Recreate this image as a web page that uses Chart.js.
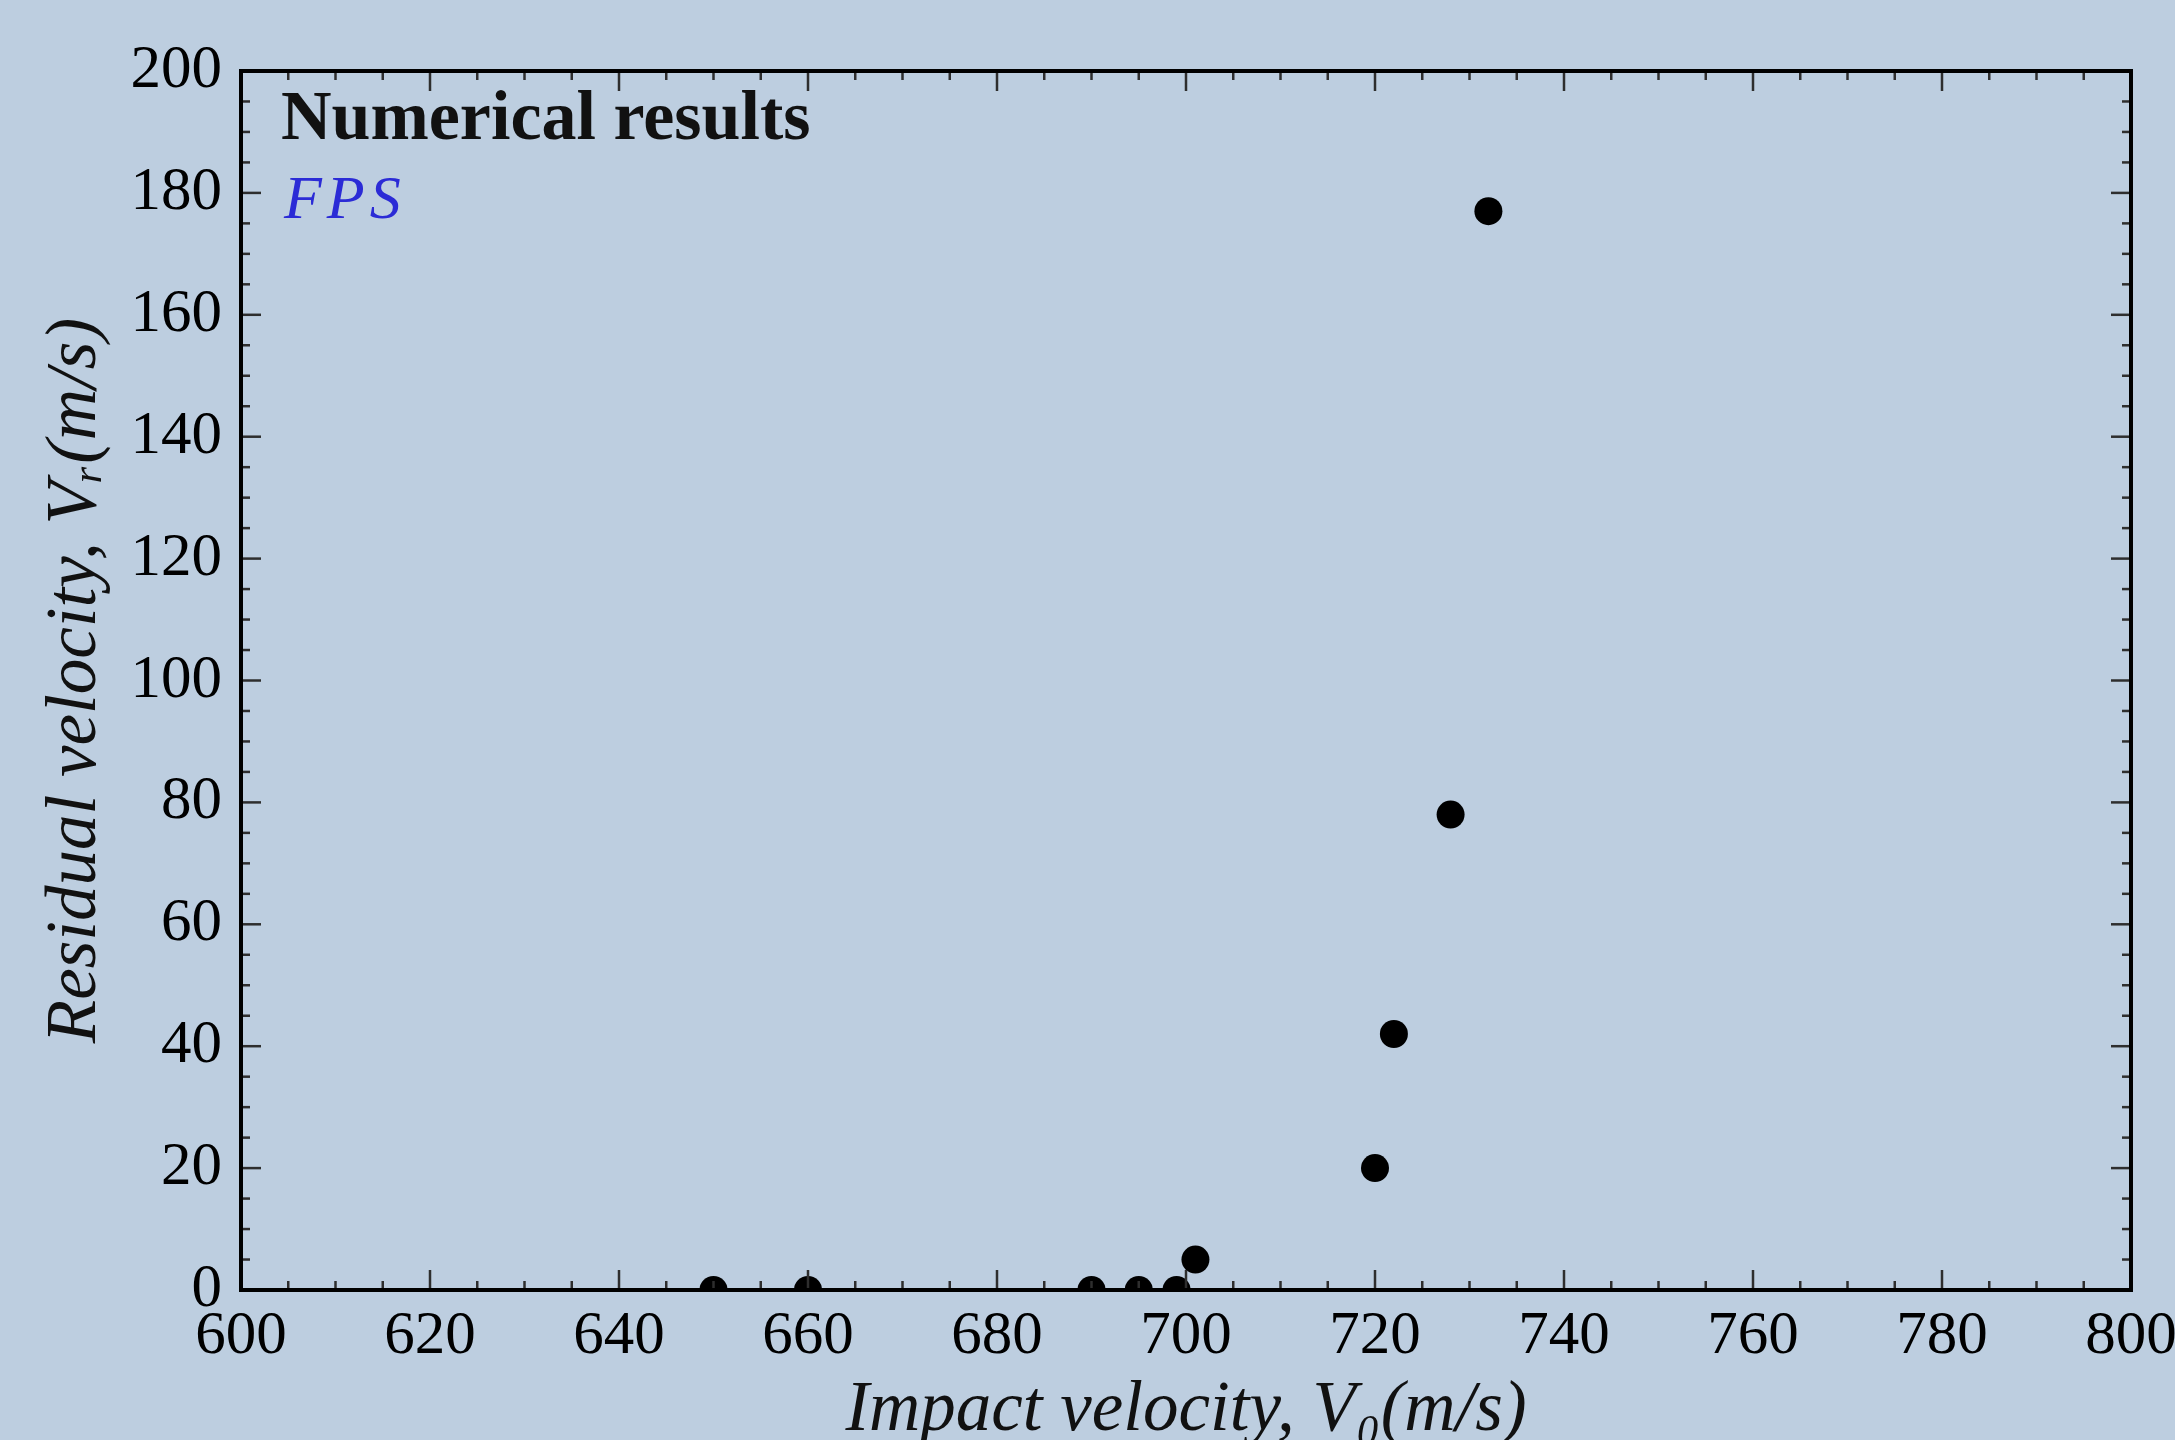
<!DOCTYPE html>
<html>
<head>
<meta charset="utf-8">
<script src="https://cdn.jsdelivr.net/npm/chart.js@4"></script>
<style>
  html, body { margin: 0; padding: 0; background: #bdcee0; }
  #wrap { width: 2175px; height: 1440px; }
</style>
</head>
<body>
<div id="wrap"><canvas id="velChart"></canvas></div>
<script>
// ---- DATA ----
const impactVel = [650, 660, 690, 695, 699, 701, 720, 722, 728, 732];
const residualVel = [0, 0, 0, 0, 0, 5, 20, 42, 78, 177];
const xRange = [600, 800];
const yRange = [0, 200];
const majorStep = 20;
const minorStep = 5;

const SERIF = "'Liberation Serif', 'DejaVu Serif', serif";

// ---- FRAME + INWARD TICKS + LABELS ----
const frameTicks = {
  id: "frameTicks",
  afterDatasetsDraw(chart) {
    const { ctx, chartArea: a, scales: { x, y } } = chart;
    ctx.save();
    ctx.strokeStyle = "#2e2e2e";
    ctx.lineWidth = 2.5;
    const seg = (x1, y1, x2, y2) => {
      ctx.beginPath(); ctx.moveTo(x1, y1); ctx.lineTo(x2, y2); ctx.stroke();
    };
    for (let v = xRange[0]; v <= xRange[1]; v += minorStep) {
      const px = x.getPixelForValue(v);
      const len = v % majorStep === 0 ? 20 : 9;
      seg(px, a.bottom, px, a.bottom - len);
      seg(px, a.top, px, a.top + len);
    }
    for (let v = yRange[0]; v <= yRange[1]; v += minorStep) {
      const py = y.getPixelForValue(v);
      const len = v % majorStep === 0 ? 20 : 9;
      seg(a.left, py, a.left + len, py);
      seg(a.right, py, a.right - len, py);
    }
    ctx.strokeStyle = "#000";
    ctx.lineWidth = 4;
    ctx.strokeRect(a.left, a.top, a.right - a.left, a.bottom - a.top);

    // in-plot labels
    ctx.textBaseline = "alphabetic";
    ctx.textAlign = "left";
    ctx.fillStyle = "#111";
    ctx.font = "bold 70px " + SERIF;
    ctx.fillText("Numerical results", a.left + 40, a.top + 68);
    ctx.fillStyle = "#2b2bd6";
    ctx.font = "italic 62px " + SERIF;
    ctx.letterSpacing = "5px";
    ctx.fillText("FPS", a.left + 43, a.top + 147);
    ctx.restore();
  }
};

// ---- CHART ----
const ctx = document.getElementById("velChart").getContext("2d");
const chart = new Chart(ctx, {
  type: "scatter",
  data: {
    datasets: [{
      label: "FPS",
      data: impactVel.map((v, i) => ({ x: v, y: residualVel[i] })),
      pointRadius: 14,
      pointHoverRadius: 14,
      pointBackgroundColor: "#000",
      pointBorderWidth: 0,
      clip: 0
    }]
  },
  options: {
    responsive: true,
    maintainAspectRatio: false,
    animation: false,
    layout: { padding: { left: 41, top: 71, right: 44, bottom: 0 } },
    plugins: { legend: { display: false }, tooltip: { enabled: false } },
    scales: {
      x: {
        type: "linear",
        min: xRange[0], max: xRange[1],
        ticks: { stepSize: majorStep, color: "#000", padding: 16,
                 font: { family: SERIF, size: 61, lineHeight: 1 }, maxRotation: 0 },
        grid: { display: false, drawTicks: false },
        border: { display: false },
        title: { display: true, text: "Impact velocity, V\u2080(m/s)", color: "#111",
                 font: { family: SERIF, size: 71, style: "italic", lineHeight: 0.8 }, padding: 0 },
        afterFit(s) { s.height = 150; s.paddingLeft = 0; s.paddingRight = 0; }
      },
      y: {
        type: "linear",
        min: yRange[0], max: yRange[1],
        ticks: { stepSize: majorStep, color: "#000", padding: 19,
                 font: { family: SERIF, size: 61, lineHeight: 1 } },
        grid: { display: false, drawTicks: false },
        border: { display: false },
        title: { display: true, text: "Residual velocity, V\u1D63(m/s)", color: "#111",
                 font: { family: SERIF, size: 71, style: "italic", lineHeight: 1 }, padding: 0 },
        afterFit(s) { s.width = 200; s.paddingTop = 0; s.paddingBottom = 0; }
      }
    }
  },
  plugins: [frameTicks]
});
</script>
</body>
</html>
